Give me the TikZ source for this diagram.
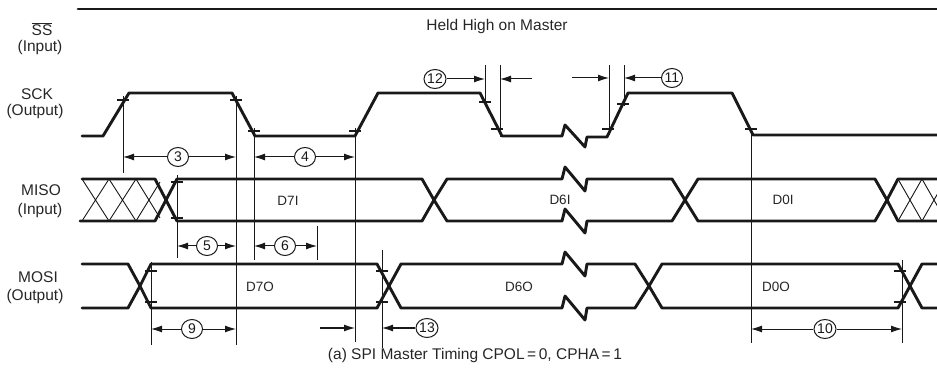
\documentclass[tikz,border=0pt]{standalone}
\usepackage{fontspec}
\setmainfont{Liberation Sans}
\usetikzlibrary{arrows.meta,shapes.geometric}
\newcommand\tk[2]{\draw[tickmark] (#1-6,#2) -- (#1+6,#2);}
\begin{document}
\begin{tikzpicture}[x=1pt,y=-1pt,
  sig/.style={line width=2.9pt,line join=round,line cap=round,black!90},
  ext/.style={line width=1pt,black!90},
  hatch/.style={line width=0.9pt,black!90},
  dim/.style={line width=1pt,black!90,-{Latex[length=11pt,width=7pt]}},
  num/.style={draw,ellipse,line width=1pt,black!90,minimum width=21pt,minimum height=19pt,inner sep=0pt,font=\fontsize{14}{14}\selectfont},
  lab/.style={font=\fontsize{15.5}{15.5}\selectfont,text=black!85},
  dat/.style={font=\fontsize{13.5}{13.5}\selectfont,text=black!85},
  tickmark/.style={line width=1.2pt,black!90}]
\useasboundingbox (0,0) rectangle (937,379);

% signal names
\node[lab] (ssn) at (42,29) {$\overline{\mbox{SS}}$};
\node[lab] (ssi) at (40,47) {(Input)};
\node[lab] (sckn) at (37,94) {SCK};
\node[lab] (scko) at (35,111) {(Output)};
\node[lab] (mison) at (41,190) {MISO};
\node[lab] (misoi) at (40,210) {(Input)};
\node[lab] (mosin) at (38,277) {MOSI};
\node[lab] (mosio) at (35,296) {(Output)};

% SS
\draw[sig] (78,9) -- (937,9);
\node[lab] (held) at (497,26) {Held High on Master};

% SCK
\draw[sig] (82,136) -- (103,136) -- (129,93) -- (232,93) -- (255,136) -- (355,136)
  -- (378,93) -- (480,93) -- (502,136) -- (562,136) -- (565,125) -- (585,147)
  -- (587,137) -- (607,137) -- (628,93) -- (732,93) -- (753,135) -- (937,135);

% MISO
\draw[sig] (82,179) -- (155,179) -- (166,200) -- (155,221) -- (80,221);
\draw[sig] (166,200) -- (177,179) -- (422,179) -- (434,200) -- (422,221) -- (177,221) -- cycle;
\draw[sig] (434,200) -- (447,179) -- (562,179) -- (565,167) -- (585,191) -- (587,179)
  -- (672,179) -- (685,200) -- (672,221) -- (587,221) -- (585,233) -- (565,209)
  -- (562,221) -- (447,221) -- cycle;
\draw[sig] (685,200) -- (698,179) -- (875,179) -- (887,200) -- (875,221) -- (698,221) -- cycle;
\draw[sig] (937,179) -- (898,179) -- (887,200) -- (898,221) -- (937,221);
% hatching
\draw[hatch] (82,179) -- (109,221) (109,179) -- (136,221) (136,179) -- (160,218)
  (82,221) -- (109,179) (109,221) -- (136,179) (136,221) -- (160,182);
\begin{scope}
\clip (890,170) rectangle (937,230);
\draw[hatch] (898,179) -- (922,221) (922,179) -- (946,221)
  (898,221) -- (922,179) (922,221) -- (946,179);
\end{scope}
\node[dat] (d7i) at (288,201) {D7I};
\node[dat] (d6i) at (560,200) {D6I};
\node[dat] (d0i) at (783,200) {D0I};

% MOSI
\draw[sig] (82,264) -- (128,264) -- (140,286) -- (128,308) -- (82,308);
\draw[sig] (140,286) -- (151,264) -- (377,264) -- (389,286) -- (377,308) -- (151,308) -- cycle;
\draw[sig] (389,286) -- (401,264) -- (562,264) -- (565,252) -- (585,276) -- (587,264)
  -- (635,264) -- (649,286) -- (635,308) -- (587,308) -- (585,320) -- (565,296)
  -- (562,308) -- (401,308) -- cycle;
\draw[sig] (649,286) -- (662,264) -- (898,264) -- (910,286) -- (898,308) -- (662,308) -- cycle;
\draw[sig] (937,264) -- (922,264) -- (910,286) -- (922,308) -- (937,308);
\node[dat] (d7o) at (260,287) {D7O};
\node[dat] (d6o) at (519,287) {D6O};
\node[dat] (d0o) at (776,287) {D0O};

% extension lines
\draw[ext] (123,96) -- (123,173);
\draw[ext] (236,96) -- (236,345);
\draw[ext] (254,128) -- (254,260);
\draw[ext] (355,128) -- (355,342);
\draw[ext] (177,175) -- (177,258);
\draw[ext] (317,226) -- (317,260);
\draw[ext] (151,262) -- (151,345);
\draw[ext] (382,250) -- (382,348);
\draw[ext] (485,65) -- (485,106);
\draw[ext] (500,65) -- (500,137);
\draw[ext] (609,65) -- (609,135);
\draw[ext] (624,65) -- (624,106);
\draw[ext] (751,128) -- (751,343);
\draw[ext] (902,260) -- (902,343);

% threshold ticks
\tk{123}{100} \tk{236}{100} \tk{254}{131} \tk{355}{131}
\tk{485}{102} \tk{497}{129} \tk{608}{129} \tk{623}{104} \tk{751}{129}
\tk{177}{182} \tk{177}{218}
\tk{151}{271} \tk{151}{302} \tk{382}{271} \tk{382}{302} \tk{900}{271} \tk{900}{302}

% dimensions
\node[num] (n3) at (178,157) {3};
\coordinate (a3l) at (123,157); \coordinate (a3r) at (236,157);
\draw[dim] (n3) -- (a3l); \draw[dim] (n3) -- (a3r);

\node[num] (n4) at (305,157) {4};
\coordinate (a4l) at (254,157); \coordinate (a4r) at (355,157);
\draw[dim] (n4) -- (a4l); \draw[dim] (n4) -- (a4r);

\node[num] (n5) at (207,246) {5};
\coordinate (a5l) at (177,246); \coordinate (a5r) at (236,246);
\draw[dim] (n5) -- (a5l); \draw[dim] (n5) -- (a5r);

\node[num] (n6) at (285,246) {6};
\coordinate (a6l) at (254,246); \coordinate (a6r) at (317,246);
\draw[dim] (n6) -- (a6l); \draw[dim] (n6) -- (a6r);

\node[num] (n9) at (192,329) {9};
\coordinate (a9l) at (151,329); \coordinate (a9r) at (236,329);
\draw[dim] (n9) -- (a9l); \draw[dim] (n9) -- (a9r);

\node[num] (n10) at (825,329) {10};
\coordinate (a10l) at (751,329); \coordinate (a10r) at (902,329);
\draw[dim] (n10) -- (a10l); \draw[dim] (n10) -- (a10r);

\node[num] (n12) at (435,79) {12};
\coordinate (a12a) at (485,79);
\coordinate (a12s) at (532,79); \coordinate (a12b) at (500,79);
\draw[dim] (n12) -- (a12a); \draw[dim] (a12s) -- (a12b);

\node[num] (n11) at (672,78) {11};
\coordinate (a11s) at (572,78); \coordinate (a11a) at (609,78);
\coordinate (a11b) at (624,78);
\draw[dim] (a11s) -- (a11a); \draw[dim] (n11) -- (a11b);

\node[num] (n13) at (427,328) {13};
\coordinate (a13s) at (320,328); \coordinate (a13a) at (355,328);
\coordinate (a13b) at (382,328);
\draw[dim] (a13s) -- (a13a); \draw[dim] (n13) -- (a13b);

% caption
\node[lab] (cap) at (475,355) {(a) SPI Master Timing CPOL\,=\,0, CPHA\,=\,1};
\end{tikzpicture}
\end{document}
